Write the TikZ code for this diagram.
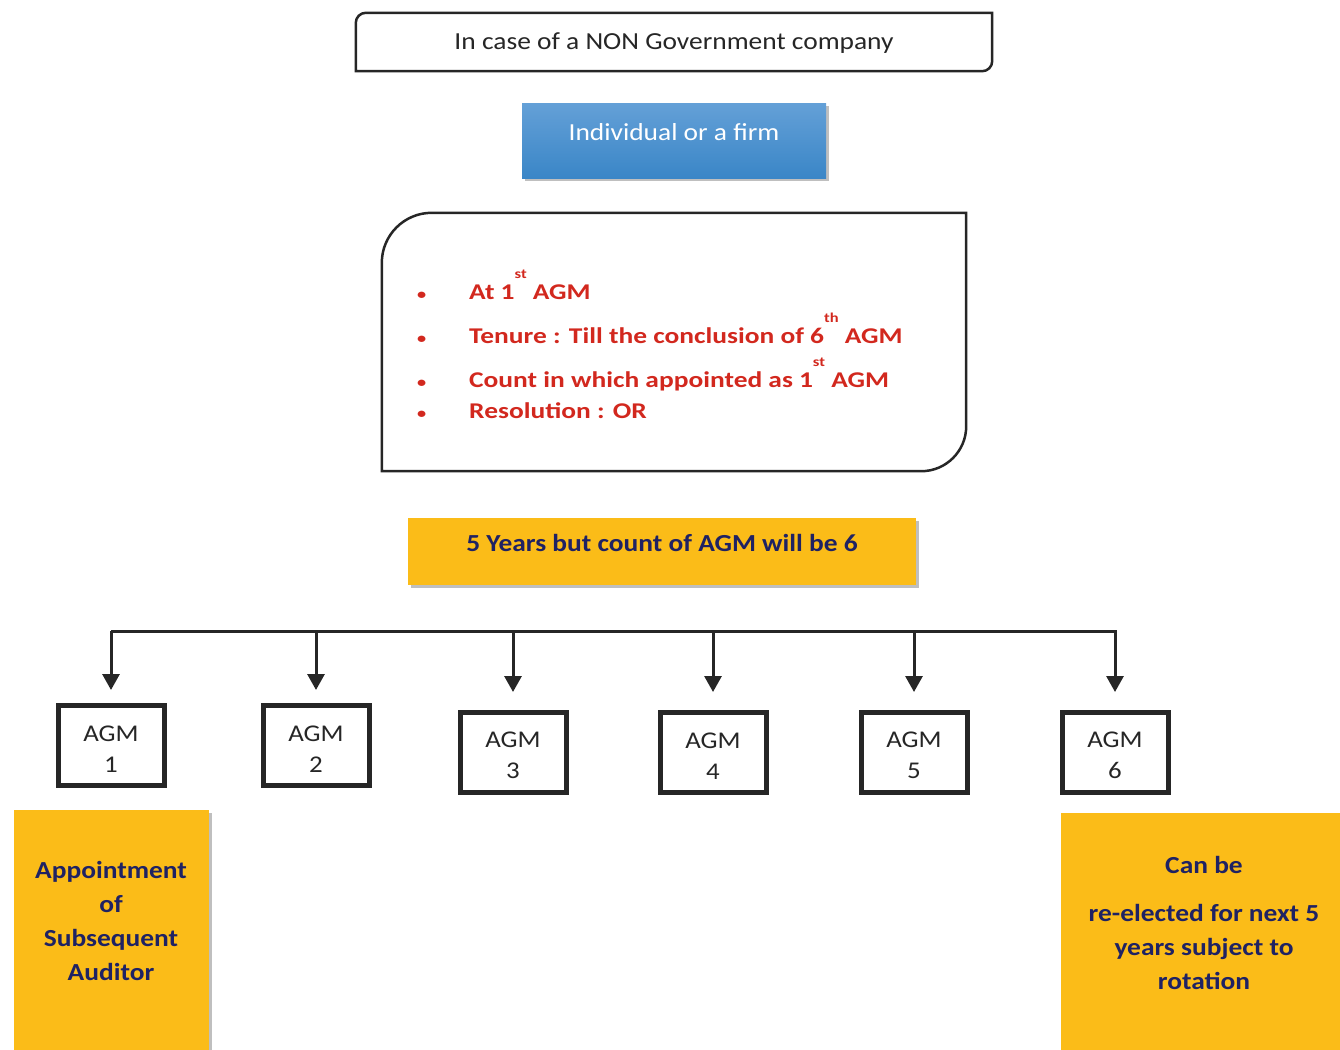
\documentclass[tikz,border=0pt]{standalone}
\usepackage{fontspec}
\setmainfont{Carlito}[FakeStretch=1.12]
\newfontfamily\listfont{Carlito}[FakeStretch=1.22]
\usetikzlibrary{arrows.meta,shadows}
\definecolor{framegray}{RGB}{38,38,38}
\definecolor{boxyellow}{RGB}{251,188,24}
\definecolor{navy}{RGB}{31,34,99}
\definecolor{listred}{RGB}{210,40,30}
\definecolor{bluetop}{RGB}{100,160,215}
\definecolor{bluebot}{RGB}{58,134,199}
\newcommand{\supr}[1]{\raisebox{21pt}{\fontsize{13.5}{13.5}\selectfont #1}}
\newcommand{\dotmark}{\makebox[52pt][l]{\fontsize{15}{15}\selectfont •}}
\begin{document}
\begin{tikzpicture}[x=1pt,y=-1pt,font=\fontsize{24.5}{30}\selectfont,
  frame/.style={draw=framegray,line width=2.5pt},
  agmbox/.style={draw=framegray,line width=5pt,minimum width=106pt,minimum height=80pt,
    align=center,inner sep=0pt,font=\fontsize{24}{31}\selectfont,text=framegray},
  shade/.style={drop shadow={shadow xshift=3pt,shadow yshift=-3pt,opacity=0.25,fill=black}},
  ybox/.style={fill=boxyellow,inner sep=0pt,shade},
  navytext/.style={text=navy,align=center,font=\fontsize{24.5}{34}\selectfont\bfseries},
  listitem/.style={anchor=base west,inner sep=0pt,text=listred,
    font=\fontsize{22.5}{27}\selectfont\listfont\bfseries},
  bus/.style={draw=framegray,line width=3pt},
  arr/.style={bus,-{Triangle[width=17pt,length=16pt]}}]
\useasboundingbox (0,0) rectangle (1340,1049);

% heading
\node[minimum width=636pt,minimum height=58pt,inner sep=0pt,text=framegray] (title) at (674,42) {};
\node[inner sep=0pt,text=framegray] (titletext) at (674,43) {In case of a NON Government company};
\draw[frame] (title.south west) [rounded corners=10pt] -- (title.north west) [sharp corners] -- (title.north east)
  [rounded corners=10pt] -- (title.south east) [sharp corners] -- cycle;

% who
\node[minimum width=304pt,minimum height=75pt,inner sep=0pt,top color=bluetop,bottom color=bluebot,shade] (whobox) at (674,140.5) {};
\node[text=white,inner sep=0pt] (who) at (674,132) {Individual or a firm};

% terms
\node[minimum width=584pt,minimum height=258pt,inner sep=0pt] (terms) at (674,342) {};
\draw[frame] (terms.south west) [rounded corners=50pt] -- (terms.north west) [sharp corners] -- (terms.north east)
  [rounded corners=45pt] -- (terms.south east) [sharp corners] -- cycle;
\node[listitem] (it1) at (417,299) {\dotmark At 1\supr{st}\ AGM};
\node[listitem] (it2) at (417,343) {\dotmark Tenure : Till the conclusion of 6\supr{th}\ AGM};
\node[listitem] (it3) at (417,387) {\dotmark Count in which appointed as 1\supr{st}\ AGM};
\node[listitem] (it4) at (417,418) {\dotmark Resolution : OR};

% period
\node[ybox,minimum width=508pt,minimum height=67pt] (periodbox) at (662,551.5) {};
\node[navytext] (period) at (662,543) {5 Years but count of AGM will be 6};

% AGMs
\node[agmbox] (agm1) at (111,745.5) {\rule{0pt}{22pt}AGM\\1};
\node[agmbox] (agm2) at (316,745.5) {\rule{0pt}{22pt}AGM\\2};
\node[agmbox] (agm3) at (513,752.5) {\rule{0pt}{22pt}AGM\\3};
\node[agmbox] (agm4) at (713,752.5) {\rule{0pt}{22pt}AGM\\4};
\node[agmbox] (agm5) at (914,752.5) {\rule{0pt}{22pt}AGM\\5};
\node[agmbox] (agm6) at (1115,752.5) {\rule{0pt}{22pt}AGM\\6};

\coordinate (busL) at (111,631);
\coordinate (busR) at (1117,631);
\draw[bus] (busL) -- (busR);
\foreach \i/\s in {1/13,2/13,3/18,4/18,5/18,6/18}
  \draw[arr,shorten >=\s pt] (agm\i.north |- busL) -- (agm\i.north);

% outcomes
\node[ybox,minimum width=195pt,minimum height=240pt] (firstbox) at (111.5,930) {};
\node[navytext] (first) at (111,921) {Appointment\\of\\Subsequent\\Auditor};
\node[ybox,minimum width=280pt,minimum height=238pt] (nextbox) at (1201,932) {};
\node[navytext] (next) at (1204,923) {Can be\\[14pt]re-elected for next 5\\years subject to\\rotation};
\end{tikzpicture}
\end{document}
